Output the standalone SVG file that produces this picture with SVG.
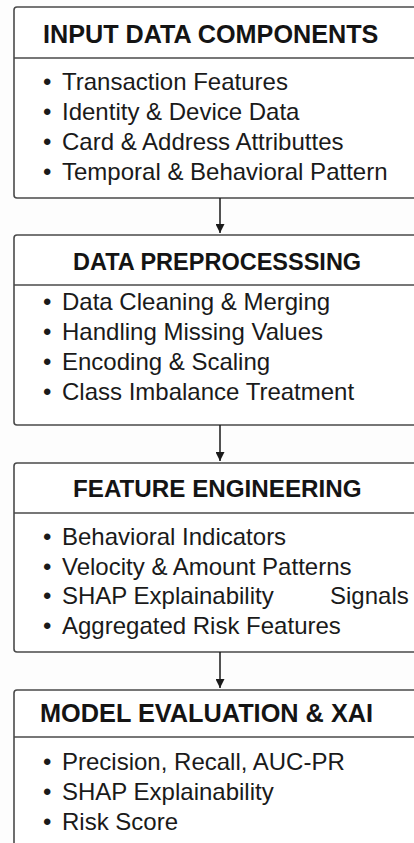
<svg xmlns="http://www.w3.org/2000/svg" width="414" height="843" viewBox="0 0 414 843">
  <defs>
    <marker id="arrow" viewBox="0 0 10 10" refX="10" refY="5" markerWidth="9" markerHeight="9" markerUnits="userSpaceOnUse" orient="auto">
      <path d="M0,0 L10,5 L0,10 Z" fill="#1a1a1a"/>
    </marker>
  </defs>
  <style>
    .box { fill: #ffffff; stroke: #4a4a4a; stroke-width: 1.6; }
    .div { stroke: #4a4a4a; stroke-width: 1.6; }
    .hdr { font-family: "Liberation Sans", Arial, sans-serif; font-weight: bold; fill: #141414; }
    .item { font-family: "Liberation Sans", Arial, sans-serif; font-size: 24px; fill: #1a1a1a; }
    .conn { stroke: #1a1a1a; stroke-width: 1.5; fill: none; }
  </style>
  <rect x="0" y="0" width="414" height="843" fill="#fdfdfd"/>

  <g id="node-input">
    <rect class="box" x="14" y="7" width="420" height="191" rx="3"/>
    <line class="div" x1="14" y1="58" x2="414" y2="58"/>
    <text class="hdr" x="43" y="43" font-size="25.2">INPUT DATA COMPONENTS</text>
    <text class="item" x="43" y="90">•<tspan x="62">Transaction Features</tspan></text>
    <text class="item" x="43" y="120">•<tspan x="62">Identity &amp; Device Data</tspan></text>
    <text class="item" x="43" y="150">•<tspan x="62">Card &amp; Address Attributtes</tspan></text>
    <text class="item" x="43" y="180">•<tspan x="62">Temporal &amp; Behavioral Pattern</tspan></text>
  </g>

  <g id="node-preprocessing">
    <rect class="box" x="14" y="235" width="420" height="190" rx="3"/>
    <line class="div" x1="14" y1="285" x2="414" y2="285"/>
    <text class="hdr" x="73" y="270" font-size="23.5">DATA PREPROCESSSING</text>
    <text class="item" x="43" y="310">•<tspan x="62">Data Cleaning &amp; Merging</tspan></text>
    <text class="item" x="43" y="340">•<tspan x="62">Handling Missing Values</tspan></text>
    <text class="item" x="43" y="370">•<tspan x="62">Encoding &amp; Scaling</tspan></text>
    <text class="item" x="43" y="400">•<tspan x="62">Class Imbalance Treatment</tspan></text>
  </g>

  <g id="node-feature">
    <rect class="box" x="14" y="463" width="420" height="189" rx="3"/>
    <line class="div" x1="14" y1="513" x2="414" y2="513"/>
    <text class="hdr" x="73" y="497" font-size="24.2">FEATURE ENGINEERING</text>
    <text class="item" x="43" y="545">•<tspan x="62">Behavioral Indicators</tspan></text>
    <text class="item" x="43" y="575">•<tspan x="62">Velocity &amp; Amount Patterns</tspan></text>
    <text class="item" x="43" y="604">•<tspan x="62">SHAP Explainability</tspan><tspan x="330">Signals</tspan></text>
    <text class="item" x="43" y="634">•<tspan x="62">Aggregated Risk Features</tspan></text>
  </g>

  <g id="node-model">
    <rect class="box" x="14" y="690" width="420" height="200" rx="3"/>
    <line class="div" x1="14" y1="737" x2="414" y2="737"/>
    <text class="hdr" x="40" y="722" font-size="25.3">MODEL EVALUATION &amp; XAI</text>
    <text class="item" x="43" y="770">•<tspan x="62">Precision, Recall, AUC-PR</tspan></text>
    <text class="item" x="43" y="800">•<tspan x="62">SHAP Explainability</tspan></text>
    <text class="item" x="43" y="830">•<tspan x="62">Risk Score</tspan></text>
  </g>

  <g id="connectors">
    <line class="conn" x1="220" y1="198" x2="220" y2="233" marker-end="url(#arrow)"/>
    <line class="conn" x1="220" y1="425" x2="220" y2="461" marker-end="url(#arrow)"/>
    <line class="conn" x1="220" y1="652" x2="220" y2="688" marker-end="url(#arrow)"/>
  </g>
</svg>
